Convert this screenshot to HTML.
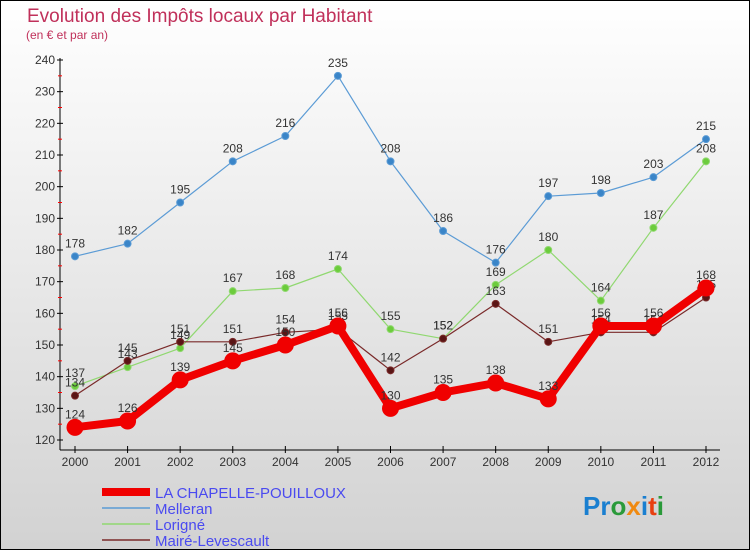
<!DOCTYPE html>
<html><head><meta charset="utf-8"><style>
html,body{margin:0;padding:0;}
body{width:750px;height:550px;overflow:hidden;font-family:"Liberation Sans",sans-serif;}
</style></head><body>
<svg width="750" height="550" xmlns="http://www.w3.org/2000/svg">
<defs><linearGradient id="bg" x1="0" y1="0" x2="0" y2="1"><stop offset="0" stop-color="#ffffff"/><stop offset="1" stop-color="#d2d2d2"/></linearGradient></defs>
<rect x="0.5" y="0.5" width="749" height="549" fill="url(#bg)" stroke="#000"/>
<text x="27" y="22" font-size="19" fill="#c0305a">Evolution des Impôts locaux par Habitant</text>
<text x="26" y="39" font-size="12" fill="#c0305a">(en € et par an)</text>
<g id="axes"></g>
<g id="series"></g>
<g id="legend"></g>
<text x="583" y="515" font-size="26" font-weight="bold"><tspan fill="#1a7fd0">Pr</tspan><tspan fill="#2a9a3a">o</tspan><tspan fill="#f08a10">x</tspan><tspan fill="#1a7fd0">i</tspan><tspan fill="#e84010">t</tspan><tspan fill="#2a9a3a">i</tspan></text>
</svg>
<script>
const years=[2000,2001,2002,2003,2004,2005,2006,2007,2008,2009,2010,2011,2012];
const yTicks=[120,130,140,150,160,170,180,190,200,210,220,230,240];
const chapelle=[124,126,139,145,150,156,130,135,138,133,156,156,168];
const melleran=[178,182,195,208,216,235,208,186,176,197,198,203,215];
const lorigne=[137,143,149,167,168,174,155,152,169,180,164,187,208];
const maire=[134,145,151,151,154,155,142,152,163,151,154,154,165];
const NS="http://www.w3.org/2000/svg";
function X(i){return 75+(706-75)*(years[i]-years[0])/(years[years.length-1]-years[0]);}
function Y(v){return 440-(v-120)*(380/120);}
function mk(t,a,p){const e=document.createElementNS(NS,t);for(const k in a)e.setAttribute(k,a[k]);p.appendChild(e);return e;}
const ax=document.getElementById('axes');
let yl=mk('line',{x1:60,y1:58,x2:60,y2:450,stroke:'#000'},ax);


let xl=mk('line',{x1:60,y1:450,x2:720,y2:450,stroke:'#000'},ax);


yTicks.forEach(v=>{
 mk('line',{x1:57,y1:Y(v),x2:63,y2:Y(v),stroke:'#000'},ax);
 if(v<240)mk('line',{x1:58,y1:Y(v+5),x2:62,y2:Y(v+5),stroke:'#f00'},ax);
 const t=mk('text',{x:55,y:Y(v)+4,'font-size':12,fill:'#333','text-anchor':'end'},ax);t.textContent=v;
 
 
});
years.forEach((y,i)=>{
 mk('line',{x1:X(i),y1:446,x2:X(i),y2:453,stroke:'#000'},ax);
 const t=mk('text',{x:X(i),y:466,'font-size':12,fill:'#333','text-anchor':'middle'},ax);t.textContent=y;
 
 
});
const sg=document.getElementById('series');
function series(data,name,col,dot,w,r){
 const g=mk('g',{},sg);
 
 
 mk('polyline',{points:data.map((v,i)=>X(i)+','+Y(v)).join(' '),fill:'none',stroke:col,'stroke-width':w,'stroke-linejoin':'round'},g);
 data.forEach((v,i)=>{
  const c=mk('circle',{cx:X(i),cy:Y(v),r:r,fill:dot,stroke:col,'stroke-width':1},g);
  
  
  const t=mk('text',{x:X(i),y:Y(v)-9,'font-size':12,fill:'#333','text-anchor':'middle'},g);t.textContent=v;
  
  
 });
}
series(melleran,'melleran','#5b9bd5','#3a85c8',1.2,3.5);
series(lorigne,'lorigne','#90d870','#6ccc3c',1.2,3.5);
series(maire,'maire-levescault','#7a2a2a','#5a1515',1.2,3.5);
series(chapelle,'la-chapelle-pouilloux','#f00000','#f00000',8,8);
const lg=document.getElementById('legend');
[['LA CHAPELLE-POUILLOUX','#f00000',8],['Melleran','#5b9bd5',1.5],['Lorigné','#90d870',1.5],['Mairé-Levescault','#7a2a2a',1.5]].forEach((d,k)=>{
 const y=492+k*16;
 const g=mk('g',{},lg);
 
 
 mk('line',{x1:102,y1:y,x2:150,y2:y,stroke:d[1],'stroke-width':d[2]},g);
 const t=mk('text',{x:155,y:y+6,'font-size':15,fill:'#4a4af0'},g);t.textContent=d[0];
});
</script>
</body></html>
